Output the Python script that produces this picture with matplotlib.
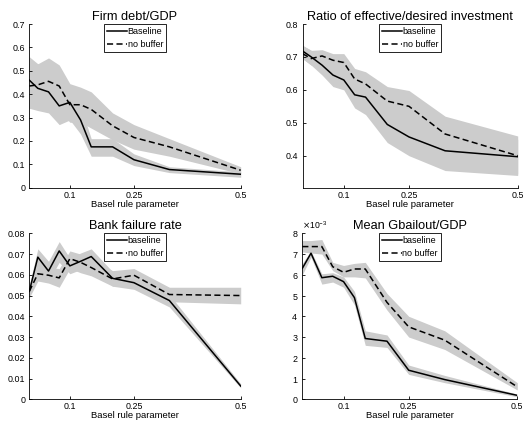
import numpy as np
import matplotlib.pyplot as plt
from matplotlib.ticker import FuncFormatter

plt.rcParams['font.family'] = ['Liberation Sans', 'DejaVu Sans']

# Basel rule parameter values
x = [0.005, 0.025, 0.05, 0.075, 0.1, 0.125, 0.15, 0.2, 0.25, 0.333, 0.5]
xticks = [0.1, 0.25, 0.5]

# Firm debt/GDP
debt_base = [0.46, 0.425, 0.41, 0.35, 0.365, 0.29, 0.175, 0.175, 0.12, 0.078, 0.058]
debt_base_lo = [0.34, 0.33, 0.32, 0.27, 0.29, 0.23, 0.135, 0.135, 0.095, 0.065, 0.045]
debt_base_hi = [0.56, 0.53, 0.52, 0.45, 0.44, 0.35, 0.21, 0.21, 0.145, 0.09, 0.068]
debt_nobuf = [0.435, 0.44, 0.455, 0.435, 0.355, 0.355, 0.335, 0.265, 0.215, 0.175, 0.075]
debt_nobuf_lo = [0.34, 0.34, 0.35, 0.33, 0.28, 0.28, 0.255, 0.205, 0.165, 0.135, 0.06]
debt_nobuf_hi = [0.53, 0.53, 0.555, 0.525, 0.445, 0.43, 0.41, 0.32, 0.27, 0.21, 0.09]

# Ratio of effective/desired investment
inv_base = [0.718, 0.70, 0.675, 0.645, 0.63, 0.585, 0.578, 0.495, 0.457, 0.415, 0.397]
inv_base_lo = [0.695, 0.675, 0.645, 0.61, 0.6, 0.545, 0.525, 0.44, 0.40, 0.355, 0.34]
inv_base_hi = [0.735, 0.72, 0.70, 0.68, 0.66, 0.625, 0.625, 0.55, 0.51, 0.47, 0.45]
inv_nobuf = [0.71, 0.695, 0.703, 0.69, 0.683, 0.633, 0.618, 0.566, 0.55, 0.466, 0.40]
inv_nobuf_lo = [0.695, 0.675, 0.68, 0.665, 0.655, 0.59, 0.575, 0.52, 0.50, 0.41, 0.345]
inv_nobuf_hi = [0.735, 0.72, 0.722, 0.71, 0.71, 0.665, 0.655, 0.61, 0.598, 0.52, 0.46]

# Bank failure rate
fail_base = [0.052, 0.0685, 0.0618, 0.0715, 0.0643, 0.0665, 0.0688, 0.0583, 0.0562, 0.0476, 0.0064]
fail_base_lo = [0.049, 0.064, 0.057, 0.066, 0.0605, 0.0625, 0.064, 0.0545, 0.053, 0.0445, 0.0055]
fail_base_hi = [0.055, 0.0725, 0.0665, 0.076, 0.068, 0.0705, 0.0725, 0.0615, 0.0595, 0.0505, 0.0075]
fail_nobuf = [0.052, 0.0605, 0.0598, 0.0585, 0.0678, 0.066, 0.0635, 0.058, 0.0598, 0.0505, 0.050]
fail_nobuf_lo = [0.049, 0.057, 0.056, 0.054, 0.063, 0.061, 0.0595, 0.0545, 0.0565, 0.047, 0.046]
fail_nobuf_hi = [0.055, 0.064, 0.0635, 0.063, 0.0715, 0.07, 0.0675, 0.062, 0.063, 0.054, 0.054]

# Mean Gbailout/GDP
bail_base = [6.31e-3, 7.04e-3, 5.86e-3, 5.93e-3, 5.67e-3, 4.9e-3, 2.93e-3, 2.8e-3, 1.4e-3, 0.95e-3, 0.19e-3]
bail_base_lo = [6.0e-3, 6.85e-3, 5.55e-3, 5.65e-3, 5.4e-3, 4.55e-3, 2.6e-3, 2.5e-3, 1.2e-3, 0.8e-3, 0.12e-3]
bail_base_hi = [6.55e-3, 7.15e-3, 6.05e-3, 6.1e-3, 5.9e-3, 5.2e-3, 3.3e-3, 3.1e-3, 1.65e-3, 1.15e-3, 0.25e-3]
bail_nobuf = [7.36e-3, 7.36e-3, 7.36e-3, 6.39e-3, 6.12e-3, 6.28e-3, 6.28e-3, 4.67e-3, 3.49e-3, 2.85e-3, 0.6e-3]
bail_nobuf_lo = [7.1e-3, 7.05e-3, 7.0e-3, 6.2e-3, 5.9e-3, 5.9e-3, 5.85e-3, 4.3e-3, 3.0e-3, 2.4e-3, 0.45e-3]
bail_nobuf_hi = [7.65e-3, 7.65e-3, 7.7e-3, 6.6e-3, 6.45e-3, 6.55e-3, 6.6e-3, 5.1e-3, 4.0e-3, 3.3e-3, 0.8e-3]

band = (0.8, 0.8, 0.8)
W, H = 526, 421


def px_rect(left, top, right, bottom):
    return [left / W, 1 - bottom / H, (right - left) / W, (bottom - top) / H]


def panel(ax, title, base, base_lo, base_hi, nobuf, nobuf_lo, nobuf_hi, ylim, yticks, first_label):
    ax.fill_between(x, base_lo, base_hi, color=band, lw=0, zorder=1)
    ax.fill_between(x, nobuf_lo, nobuf_hi, color=band, lw=0, zorder=1)
    ax.plot(x, base, 'k-', lw=1.1, label=first_label, zorder=3)
    ax.plot(x, nobuf, 'k--', lw=1.1, dashes=(4, 2.2), label='no buffer', zorder=3)
    ax.set_xlim(x[0], 0.5)
    ax.set_ylim(*ylim)
    ax.set_xticks(xticks)
    ax.set_yticks(yticks)
    ax.xaxis.set_major_formatter(FuncFormatter(lambda v, p: '%g' % v))
    ax.set_title(title, fontsize=9.2, pad=3)
    ax.set_xlabel('Basel rule parameter', fontsize=6.8, labelpad=0)
    ax.tick_params(direction='in', length=2.5, width=0.6, labelsize=6.4)
    ax.tick_params(axis='x', pad=2)
    ax.tick_params(axis='y', pad=3)
    for s in ['top', 'right']:
        ax.spines[s].set_visible(False)
    for s in ['left', 'bottom']:
        ax.spines[s].set_linewidth(0.6)
    leg = ax.legend(loc='upper center', fontsize=6.5, frameon=True, fancybox=False,
                    edgecolor='black', framealpha=1, borderaxespad=0, handlelength=2.2,
                    handletextpad=0.1, labelspacing=0.4, borderpad=0.35)
    leg.get_frame().set_linewidth(0.6)


fig = plt.figure(figsize=(W / 100, H / 100), dpi=100)

ax1 = fig.add_axes(px_rect(29.3, 24, 240.7, 187.8))
panel(ax1, 'Firm debt/GDP', debt_base, debt_base_lo, debt_base_hi,
      debt_nobuf, debt_nobuf_lo, debt_nobuf_hi, (0, 0.7), np.arange(0, 0.71, 0.1), 'Baseline')
ax1.yaxis.set_major_formatter(FuncFormatter(lambda v, p: '%g' % round(v, 3)))

ax2 = fig.add_axes(px_rect(302.5, 24, 517.7, 188))
panel(ax2, 'Ratio of effective/desired investment', inv_base, inv_base_lo, inv_base_hi,
      inv_nobuf, inv_nobuf_lo, inv_nobuf_hi, (0.302, 0.8), [0.4, 0.5, 0.6, 0.7, 0.8], 'baseline')
ax2.yaxis.set_major_formatter(FuncFormatter(lambda v, p: '%g' % round(v, 3)))

ax3 = fig.add_axes(px_rect(29.3, 233.3, 240.7, 399.3))
panel(ax3, 'Bank failure rate', fail_base, fail_base_lo, fail_base_hi,
      fail_nobuf, fail_nobuf_lo, fail_nobuf_hi, (0, 0.08), np.arange(0, 0.081, 0.01), 'baseline')
ax3.yaxis.set_major_formatter(FuncFormatter(lambda v, p: '%g' % round(v, 4)))

ax4 = fig.add_axes(px_rect(302.3, 233.3, 517.3, 399.3))
panel(ax4, 'Mean Gbailout/GDP', bail_base, bail_base_lo, bail_base_hi,
      bail_nobuf, bail_nobuf_lo, bail_nobuf_hi, (0, 0.008), np.arange(0, 0.0081, 0.001), 'baseline')
ax4.ticklabel_format(axis='y', style='sci', scilimits=(0, 0), useMathText=True)
ax4.yaxis.get_offset_text().set_fontsize(6.2)

fig.savefig('out.png', dpi=100)
